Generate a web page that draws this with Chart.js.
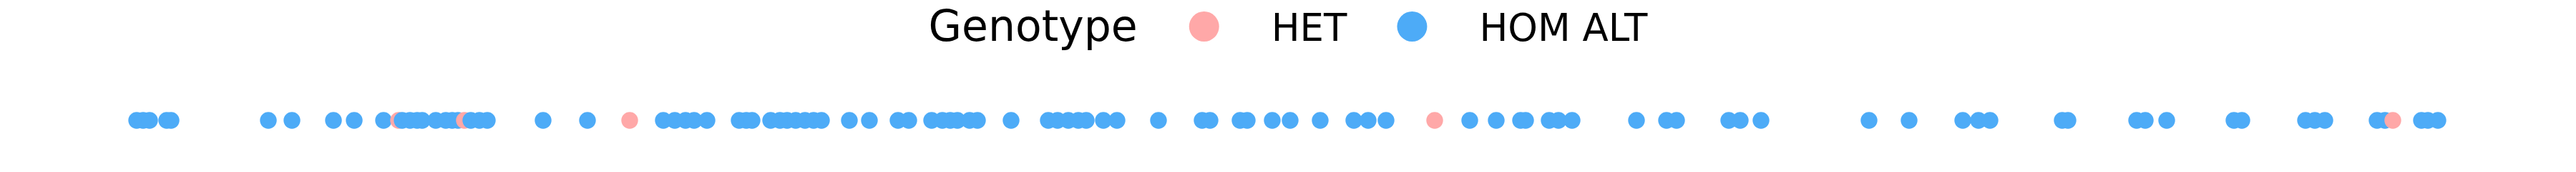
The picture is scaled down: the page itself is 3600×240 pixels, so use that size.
<!DOCTYPE html>
<html>
<head>
<meta charset="utf-8">
<script src="https://cdn.jsdelivr.net/npm/chart.js@4/dist/chart.umd.min.js"></script>
<style>
  html, body { margin: 0; padding: 0; background: #fff; }
  #wrap { width: 3600px; height: 240px; }
</style>
</head>
<body>
<div id="wrap"><canvas id="variantChart"></canvas></div>
<script>
// **************************
//    DATA
// **************************
const legendTitle = "Genotype";
const genotypes = ["HET", "HOM ALT"];
const genotypeColors = ["#ffa8a8", "#4dabf7"];

// variant positions along the region (axis units 0 - 360)
const hetPositions = [55.7, 64.9, 88.0, 200.5, 334.4];
const homAltPositions = [
    19.1, 20.0, 20.9, 23.3, 23.9, 37.5, 40.8, 46.6, 49.5, 53.6,
    56.2, 57.3, 58.3, 59.0, 60.9, 62.3, 63.2, 64.0, 65.8, 67.0,
    68.1, 75.9, 82.1, 92.7, 94.3, 95.8, 97.0, 98.8, 103.3, 104.3,
    105.1, 107.7, 109.0, 110.0, 111.2, 112.5, 113.7, 114.8, 118.7, 121.5,
    125.5, 127.0, 130.2, 131.7, 132.8, 133.8, 135.5, 136.6, 141.3, 146.5,
    147.8, 149.3, 150.7, 151.8, 154.2, 156.1, 161.9, 168.0, 169.1, 173.3,
    174.3, 177.8, 180.3, 184.5, 189.2, 191.2, 193.7, 205.4, 209.1, 212.5,
    213.2, 216.5, 217.8, 219.7, 228.7, 232.9, 234.3, 241.6, 243.2, 246.1,
    261.2, 266.8, 274.3, 276.5, 278.1, 288.2, 289.0, 298.6, 299.8, 302.8,
    312.2, 313.3, 322.2, 323.5, 324.9, 332.2, 333.3, 338.4, 339.3, 340.7
];
const axisMin = 0;
const axisMax = 360;

// one series sorted by position, so later points sit on top (as in the picture)
const variants = [
    ...hetPositions.map(p => ({ x: p, y: 0, g: 0 })),
    ...homAltPositions.map(p => ({ x: p, y: 0, g: 1 }))
].sort((a, b) => a.x - b.x);


// **************************
//    LEGEND (title inline, left of the items)
// **************************
const genotypeLegend = {
    id: "genotypeLegend",
    afterDraw(chart) {
        const ctx = chart.ctx;
        const titleFont = '60px "DejaVu Sans"';
        const itemFont = '53px "DejaVu Sans"';
        const markerR = 21;
        const titleGap = 72, textGap = 73, itemGap = 70;
        const cy = 37;
        const baseline = 57;

        ctx.save();
        ctx.textBaseline = "alphabetic";
        ctx.fillStyle = "#000";

        ctx.font = titleFont;
        const titleW = ctx.measureText(legendTitle).width;
        ctx.font = itemFont;
        const textW = genotypes.map(g => ctx.measureText(g).width);

        let total = titleW + titleGap;
        textW.forEach((w, i) => {
            total += markerR * 2 + textGap + w + (i < textW.length - 1 ? itemGap : 0);
        });

        let x = (chart.width - total) / 2;
        ctx.font = titleFont;
        ctx.fillText(legendTitle, x, baseline);
        x += titleW + titleGap;

        ctx.font = itemFont;
        genotypes.forEach((g, i) => {
            ctx.beginPath();
            ctx.arc(x + markerR, cy, markerR, 0, Math.PI * 2);
            ctx.fillStyle = genotypeColors[i];
            ctx.fill();
            x += markerR * 2 + textGap;
            ctx.fillStyle = "#000";
            ctx.fillText(g, x, baseline);
            x += textW[i] + itemGap;
        });
        ctx.restore();
    }
};


// **************************
//    CHART
// **************************
new Chart(document.getElementById("variantChart"), {
    type: "scatter",
    data: {
        datasets: [{
            label: legendTitle,
            data: variants,
            pointBackgroundColor: variants.map(v => genotypeColors[v.g]),
            pointBorderWidth: 0,
            pointRadius: 11.7,
            pointHoverRadius: 11.7
        }]
    },
    options: {
        responsive: true,
        maintainAspectRatio: false,
        animation: false,
        layout: {
            autoPadding: false,
            padding: { top: 96, right: 0, bottom: 0, left: 0 }
        },
        plugins: {
            legend: { display: false },
            tooltip: { enabled: false }
        },
        scales: {
            x: { type: "linear", min: axisMin, max: axisMax, display: false },
            y: { min: -1, max: 1, display: false }
        }
    },
    plugins: [genotypeLegend]
});
</script>
</body>
</html>
